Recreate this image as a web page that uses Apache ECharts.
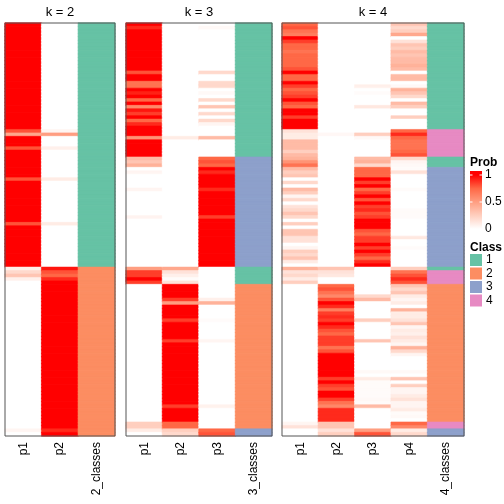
<!DOCTYPE html>
<html><head><meta charset="utf-8">
<script src="https://cdn.jsdelivr.net/npm/echarts/dist/echarts.min.js"></script>
<style>html,body{margin:0;padding:0;background:#fff}#c{width:504px;height:504px}</style>
</head><body><div id="c"></div>
<script>
const panelTitles = ['k = 2', 'k = 3', 'k = 4'];
const colLabels = [
  ['p1', 'p2', '2_classes'],
  ['p1', 'p2', 'p3', '3_classes'],
  ['p1', 'p2', 'p3', 'p4', '4_classes']
];

const k2_p1 = [
1,1,1,1,1,1,1,1,1,1,
1,1,1,1,1,1,1,1,1,1,
1,1,1,1,1,1,1,1,1,1,
1,.8,.45,1,1,1,.8,1,1,1,
1,1,1,1,1,.8,1,1,1,1,
1,1,1,1,1,1,1,1,.8,1,
1,1,1,1,1,1,1,1,1,1,
1,.08,.2,.3,.08,0,0,0,0,0,
0,0,0,0,0,0,0,0,0,0,
0,0,0,0,0,0,0,0,0,0,
0,0,0,0,0,0,0,0,0,0,
0,0,0,0,0,0,0,0,.05,0];
const k2_p2 = [
0,0,0,0,0,0,0,0,0,0,
0,0,0,0,0,0,0,0,0,0,
0,0,0,0,0,0,0,0,0,0,
0,.05,.5,0,0,0,.08,0,0,0,
0,0,0,0,0,.1,0,0,0,0,
0,0,0,0,0,0,0,0,.1,0,
0,0,0,0,0,0,0,0,0,0,
0,.95,.8,.75,.9,1,1,1,1,1,
1,1,1,1,1,1,1,1,1,1,
1,1,1,1,1,1,1,1,1,1,
1,1,1,1,1,1,1,1,1,1,
1,1,1,1,1,1,1,1,.9,1];
const k2_class = [
1,1,1,1,1,1,1,1,1,1,
1,1,1,1,1,1,1,1,1,1,
1,1,1,1,1,1,1,1,1,1,
1,1,1,1,1,1,1,1,1,1,
1,1,1,1,1,1,1,1,1,1,
1,1,1,1,1,1,1,1,1,1,
1,1,1,1,1,1,1,1,1,1,
1,2,2,2,2,2,2,2,2,2,
2,2,2,2,2,2,2,2,2,2,
2,2,2,2,2,2,2,2,2,2,
2,2,2,2,2,2,2,2,2,2,
2,2,2,2,2,2,2,2,2,2];

const k3_p1 = [
1,.9,1,1,1,1,1,1,1,1,
1,1,1,1,.8,1,1,.7,.7,1,
.92,1,.75,1,.6,.95,.85,1,.75,.9,
1,1,1,.55,1,1,1,1,1,.35,
.3,.4,0,.05,0,0,0,0,.05,0,
0,0,0,0,0,0,.06,0,0,0,
0,0,0,0,0,0,0,0,0,0,
0,.5,.85,.85,1,.85,0,0,0,0,
0,0,0,0,0,0,0,0,0,0,
0,0,0,0,0,0,0,0,0,0,
0,0,0,0,0,0,0,0,0,0,
0,0,0,0,0,0,.25,.25,.1,0];
const k3_p2 = [
0,0,0,0,0,0,0,0,0,0,
0,0,0,0,0,0,0,0,0,0,
0,0,0,0,0,0,0,0,0,0,
0,0,0,.1,0,0,0,0,0,0,
0,0,0,0,0,0,0,0,0,0,
0,0,0,0,0,0,0,0,0,0,
0,0,0,0,0,0,0,0,0,0,
0,.45,.15,.08,.02,.15,1,1,1,1,
.85,.5,1,1,1,1,.85,1,1,1,
1,1,.85,1,1,1,1,1,1,1,
1,1,1,1,1,1,1,1,1,1,
1,.85,1,1,1,1,.75,.75,.25,.2];
const k3_p3 = [
0,.03,0,0,0,0,0,0,0,0,
0,0,0,0,.2,0,0,.2,.2,0,
.03,0,.2,0,.3,0,.2,0,.2,.05,
0,0,0,.35,0,0,0,0,0,.75,
.8,.75,1,.9,1,1,1,1,.9,1,
1,1,1,1,1,1,.85,1,1,1,
1,1,1,1,1,1,1,1,1,1,
1,0,0,0,0,0,0,0,0,0,
.08,.4,0,0,0,0,.02,0,0,0,
0,0,.05,0,0,0,0,0,0,0,
0,0,0,0,0,0,0,0,0,0,
0,.07,0,0,0,0,0,0,.75,.8];
const k3_class = [
1,1,1,1,1,1,1,1,1,1,
1,1,1,1,1,1,1,1,1,1,
1,1,1,1,1,1,1,1,1,1,
1,1,1,1,1,1,1,1,1,3,
3,3,3,3,3,3,3,3,3,3,
3,3,3,3,3,3,3,3,3,3,
3,3,3,3,3,3,3,3,3,3,
3,1,1,1,1,1,2,2,2,2,
2,2,2,2,2,2,2,2,2,2,
2,2,2,2,2,2,2,2,2,2,
2,2,2,2,2,2,2,2,2,2,
2,2,2,2,2,2,2,2,3,3];

const k4_p1 = [
.75,.8,.7,.65,1,.85,.75,.75,.7,.75,
.75,.75,.75,.8,1,.75,.75,1,.85,.75,
.8,.85,1,.8,.75,1,1,.85,1,1,
1,.15,.1,.1,.35,.35,.35,.25,.35,.4,
.55,.7,.35,.25,.3,0,.2,0,.35,.25,
.05,.2,0,.15,.2,.3,.2,0,.25,0,
.3,.3,.15,.15,0,.05,.25,.2,.3,.1,
0,.4,.15,.2,.1,.25,0,0,0,0,
0,0,0,0,0,0,0,0,0,0,
0,0,0,0,0,0,0,0,0,0,
0,0,0,0,0,0,0,0,0,0,
0,0,0,0,0,0,.05,.15,0,0];
const k4_p2 = [
0,0,0,0,0,0,0,0,0,0,
0,0,0,0,0,0,0,0,0,0,
0,0,0,0,0,0,0,0,0,0,
0,0,.04,0,0,0,0,0,0,0,
0,0,0,0,0,0,0,0,0,0,
0,0,0,0,0,0,0,0,0,0,
0,0,0,0,0,0,0,0,0,0,
0,.3,.15,.12,0,0,.75,.8,.7,.6,
.8,1,.9,.65,.85,.9,.85,1,.9,.8,
.75,.85,.85,.85,.7,.8,1,1,1,1,
1,1,1,.85,1,.85,.8,1,1,.85,
.7,.6,.9,.9,.9,.9,.3,.3,.15,.25];
const k4_p3 = [
0,0,0,0,0,0,0,0,0,0,
0,0,0,0,0,0,0,0,.08,0,
.02,0,0,0,.12,0,0,0,0,0,
0,0,.25,.03,0,0,0,0,0,.35,
.4,.2,.75,.75,.75,1,.85,1,.75,.85,
1,.8,1,.85,.9,.8,.85,1,1,1,
.8,.75,.85,.85,1,.85,1,.85,.75,.9,
1,0,0,0,0,0,0,0,0,.2,
.35,0,0,0,0,0,.25,0,0,0,
0,0,.3,0,0,0,0,0,0,0,
0,.03,0,.1,.02,.02,.02,.02,.02,.03,
.02,.35,0,0,0,0,0,0,.5,.8];
const k4_p4 = [
.3,.2,.25,.45,0,.15,.3,.25,.35,.3,
.35,.35,.4,.35,0,.35,.35,0,.03,.4,
.3,.2,0,.35,.25,0,0,.25,0,0,
0,.75,.9,.75,.7,.7,.7,.75,.8,.2,
.05,.03,.02,.15,0,0,0,0,.02,0,
0,0,0,0,.02,.02,.02,0,0,0,
0,0,.12,0,0,.02,0,0,0,0,
0,.25,.7,.8,.9,.8,.3,.2,.3,.1,
.05,.1,0,.4,.1,.1,.15,.3,.05,.1,
.08,.15,.1,.05,.4,.2,.05,0,0,0,
0,.03,0,.3,0,.25,.05,.05,.1,.15,
.05,.05,.1,.02,.03,0,.75,.6,.1,.2];
const k4_class = [
1,1,1,1,1,1,1,1,1,1,
1,1,1,1,1,1,1,1,1,1,
1,1,1,1,1,1,1,1,1,1,
1,4,4,4,4,4,4,4,4,1,
1,1,3,3,3,3,3,3,3,3,
3,3,3,3,3,3,3,3,3,3,
3,3,3,3,3,3,3,3,3,3,
3,1,4,4,4,4,2,2,2,2,
2,2,2,2,2,2,2,2,2,2,
2,2,2,2,2,2,2,2,2,2,
2,2,2,2,2,2,2,2,2,2,
2,2,2,2,2,2,4,4,3,3];

const classValues = [1, 2, 3, 4];
const classColors = ['#66C2A5', '#FC8D62', '#8DA0CB', '#E78AC3'];
const probTickValues = [1, 0.5, 0];
const probTickLabels = ['1', '0.5', '0'];
// white -> red interpolated (LAB-like) stops
const probColors = ['#FFFFFF', '#FFCFBF', '#FF9E81', '#FF6846', '#FF0000'];

const panels = [
  { probs: [k2_p1, k2_p2], cls: k2_class },
  { probs: [k3_p1, k3_p2, k3_p3], cls: k3_class },
  { probs: [k4_p1, k4_p2, k4_p3, k4_p4], cls: k4_class }
];

const FONT = '"Liberation Sans", Arial, Helvetica, sans-serif';
const grids = [
  { left: 5, top: 23, width: 110, height: 413 },
  { left: 126, top: 23, width: 146, height: 413 },
  { left: 282, top: 23, width: 182, height: 413 }
];

const nRows = k2_class.length;
const rowCats = [];
for (let i = 0; i < nRows; i++) rowCats.push(String(i));

function probColor(v) { return echarts.color.lerp(Math.max(0, Math.min(1, v)), probColors); }
function cellItem(x, y, v, col) {
  return { value: [x, y, v], itemStyle: { color: col, borderColor: col, borderWidth: 0.6 } };
}

const xAxes = [], yAxes = [], series = [];
panels.forEach((p, pi) => {
  xAxes.push({
    gridIndex: pi, type: 'category', data: colLabels[pi], position: 'bottom',
    axisLine: { show: false }, axisTick: { show: false }, splitLine: { show: false },
    axisLabel: { rotate: 90, interval: 0, fontSize: 12, color: '#000', fontFamily: FONT, margin: 6 }
  });
  yAxes.push({ gridIndex: pi, type: 'category', data: rowCats, inverse: true, show: false });
  const probData = [];
  p.probs.forEach((arr, ci) => arr.forEach((v, r) => probData.push(cellItem(ci, r, v, probColor(v)))));
  series.push({ type: 'heatmap', xAxisIndex: pi, yAxisIndex: pi, data: probData,
    emphasis: { disabled: true }, progressive: 0 });
  const clsData = p.cls.map((c, r) => cellItem(p.probs.length, r, c, classColors[classValues.indexOf(c)]));
  series.push({ type: 'heatmap', xAxisIndex: pi, yAxisIndex: pi, data: clsData,
    emphasis: { disabled: true }, progressive: 0 });
});

const graphics = [];
panelTitles.forEach((t, i) => {
  const g = grids[i];
  graphics.push({ type: 'text', x: g.left + g.width / 2, y: 12,
    style: { text: t, align: 'center', verticalAlign: 'middle', fontSize: 13, fontFamily: FONT, fill: '#000' } });
  graphics.push({ type: 'rect', z: 100, shape: { x: g.left, y: g.top, width: g.width, height: g.height },
    style: { fill: 'none', stroke: '#555', lineWidth: 1 } });
});

// Prob legend
const LX = 470;
const barTop = 171, barH = 60, v1y = 175, v0y = 229;
graphics.push({ type: 'text', x: LX, y: 163,
  style: { text: 'Prob', align: 'left', verticalAlign: 'middle', fontSize: 12, fontWeight: 'bold', fontFamily: FONT, fill: '#000' } });
const gradStops = probColors.slice().reverse().map((c, i, a) => ({
  offset: (v1y - barTop + (v0y - v1y) * i / (a.length - 1)) / barH, color: c }));
gradStops.unshift({ offset: 0, color: probColors[probColors.length - 1] });
gradStops.push({ offset: 1, color: probColors[0] });
graphics.push({ type: 'rect', shape: { x: LX, y: barTop, width: 12, height: barH },
  style: { fill: new echarts.graphic.LinearGradient(0, 0, 0, 1, gradStops) } });
probTickValues.forEach((v, i) => {
  const y = v0y - (v0y - v1y) * v;
  graphics.push({ type: 'line', shape: { x1: LX, y1: y, x2: LX + 2.5, y2: y }, style: { stroke: '#fff', lineWidth: 1 } });
  graphics.push({ type: 'line', shape: { x1: LX + 9.5, y1: y, x2: LX + 12, y2: y }, style: { stroke: '#fff', lineWidth: 1 } });
  graphics.push({ type: 'text', x: LX + 15, y: y,
    style: { text: probTickLabels[i], align: 'left', verticalAlign: 'middle', fontSize: 12, fontFamily: FONT, fill: '#000' } });
});

// Class legend
graphics.push({ type: 'text', x: LX, y: 248,
  style: { text: 'Class', align: 'left', verticalAlign: 'middle', fontSize: 12, fontWeight: 'bold', fontFamily: FONT, fill: '#000' } });
classValues.forEach((c, i) => {
  const cy = 260 + i * 13.5;
  graphics.push({ type: 'rect', shape: { x: LX, y: cy - 6, width: 12, height: 12 }, style: { fill: classColors[i] } });
  graphics.push({ type: 'text', x: LX + 16, y: cy,
    style: { text: String(c), align: 'left', verticalAlign: 'middle', fontSize: 12, fontFamily: FONT, fill: '#000' } });
});

const chart = echarts.init(document.getElementById('c'), null, { renderer: 'canvas' });
chart.setOption({
  animation: false,
  backgroundColor: '#fff',
  grid: grids.map(g => Object.assign({ containLabel: false }, g)),
  xAxis: xAxes,
  yAxis: yAxes,
  series: series,
  graphic: graphics
});
</script>
</body></html>
